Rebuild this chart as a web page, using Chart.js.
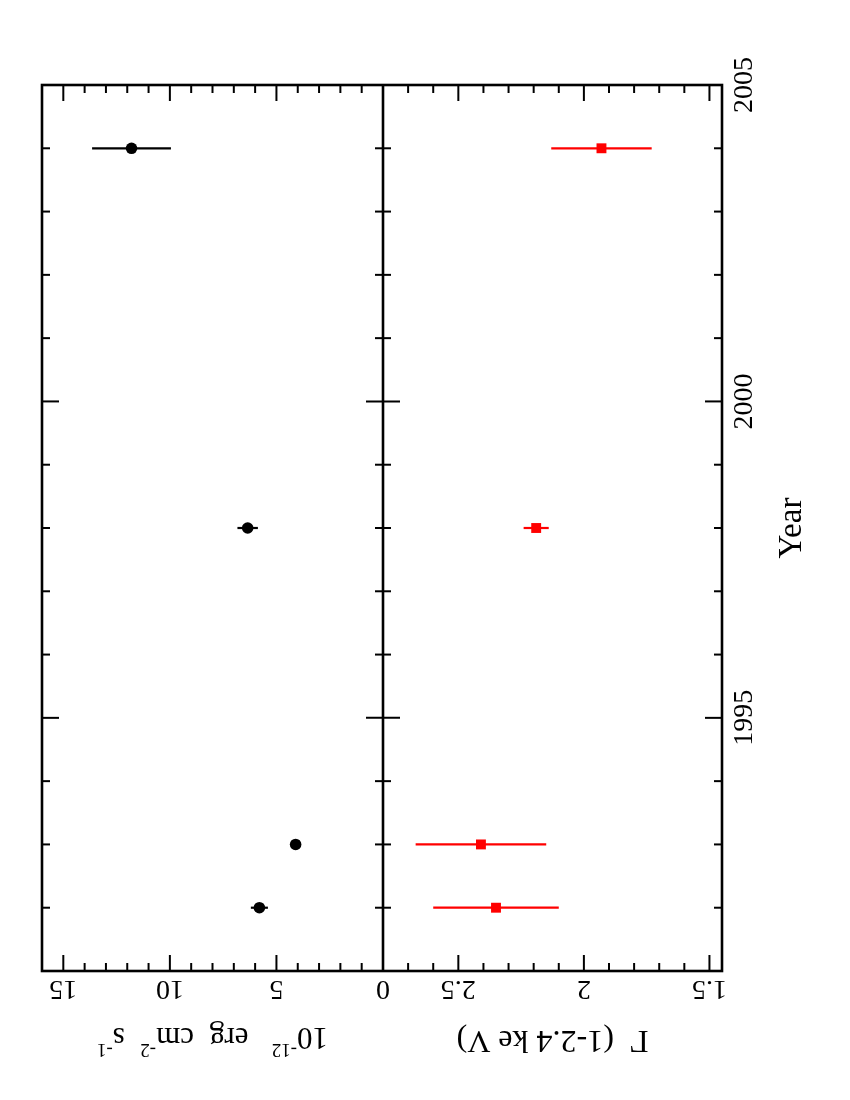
<!DOCTYPE html>
<html lang="en">
  <head>
    <meta charset="UTF-8" />
    <title>Flux and photon index by year</title>
    <script src="https://cdn.jsdelivr.net/npm/chart.js"></script>
    <style>
      html,
      body {
        margin: 0;
        padding: 0;
        background: #fff;
        font-family: 'Liberation Serif', serif;
      }
      canvas {
        display: block;
      }
    </style>
  </head>
  <body>
    <canvas id="yearChart" width="850" height="1100"></canvas>

    <script>
      // Observation epochs
      const years = [1992, 1993, 1998, 2004];
      // Flux, 10^-12 erg cm^-2 s^-1
      const flux = [5.8, 4.1, 6.35, 11.8];
      const fluxErr = [0.4, 0.12, 0.48, 1.85];
      // Photon index, 1-2.4 keV
      const gamma = [2.35, 2.41, 2.19, 1.93];
      const gammaErr = [0.25, 0.26, 0.05, 0.2];

      // Labelled ticks
      const yearTicks = [1995, 2000, 2005];
      const fluxTicks = [0, 5, 10, 15];
      const gammaTicks = [1.5, 2, 2.5];

      const serif = "'Liberation Serif', 'Times New Roman', Times, serif";

      // horizontal error bar on one of the value scales
      function errBar(ctx, scale, v, e, y, color) {
        ctx.strokeStyle = color;
        ctx.beginPath();
        ctx.moveTo(scale.getPixelForValue(v - e), y);
        ctx.lineTo(scale.getPixelForValue(v + e), y);
        ctx.stroke();
      }

      function seg(ctx, x1, y1, x2, y2) {
        ctx.beginPath();
        ctx.moveTo(x1, y1);
        ctx.lineTo(x2, y2);
        ctx.stroke();
      }

      // text made of pieces (for superscripts), centred on (x, y), turned by angle
      function richText(ctx, x, y, angle, parts) {
        ctx.save();
        ctx.translate(x, y);
        ctx.rotate(angle);
        ctx.textAlign = 'left';
        ctx.textBaseline = 'alphabetic';
        let w = 0;
        parts.forEach((p) => {
          ctx.font = p.size + 'px ' + serif;
          w += ctx.measureText(p.t).width;
        });
        let cx = -w / 2;
        parts.forEach((p) => {
          ctx.font = p.size + 'px ' + serif;
          ctx.fillText(p.t, cx, -(p.rise || 0));
          cx += ctx.measureText(p.t).width;
        });
        ctx.restore();
      }

      const errorBars = {
        id: 'errorBars',
        beforeDatasetsDraw(chart) {
          const { ctx, scales } = chart;
          ctx.save();
          ctx.lineWidth = 2.2;
          years.forEach((yr, i) => {
            const y = scales.y.getPixelForValue(yr);
            errBar(ctx, scales.xf, flux[i], fluxErr[i], y, '#000');
            errBar(ctx, scales.xg, gamma[i], gammaErr[i], y, '#ff0000');
          });
          ctx.restore();
        },
      };

      const frame = {
        id: 'frame',
        afterDraw(chart) {
          const { ctx, chartArea: a, scales } = chart;
          const mid = scales.xf.getPixelForValue(0);
          ctx.save();
          ctx.strokeStyle = '#000';
          ctx.fillStyle = '#000';

          // year ticks on both outer borders and across the divider
          ctx.lineWidth = 2;
          for (let yr = 1991; yr <= 2005; yr++) {
            const y = scales.y.getPixelForValue(yr);
            const len = yr % 5 === 0 ? 17 : 8;
            seg(ctx, a.left, y, a.left + len, y);
            seg(ctx, mid - len, y, mid + len, y);
            seg(ctx, a.right - len, y, a.right, y);
          }

          // value ticks on top and bottom
          for (let v = 1; v <= 15; v++) {
            const x = scales.xf.getPixelForValue(v);
            const len = v % 5 === 0 ? 16 : 8;
            seg(ctx, x, a.top, x, a.top + len);
            seg(ctx, x, a.bottom, x, a.bottom - len);
          }
          for (let k = 15; k <= 27; k++) {
            const x = scales.xg.getPixelForValue(k / 10);
            const len = k % 5 === 0 ? 16 : 8;
            seg(ctx, x, a.top, x, a.top + len);
            seg(ctx, x, a.bottom, x, a.bottom - len);
          }

          ctx.lineWidth = 2.6;
          ctx.strokeRect(a.left, a.top, a.right - a.left, a.bottom - a.top);
          seg(ctx, mid, a.top, mid, a.bottom);

          // tick labels
          ctx.font = '28px ' + serif;
          ctx.textAlign = 'center';
          ctx.textBaseline = 'alphabetic';
          yearTicks.forEach((yr) => {
            ctx.save();
            ctx.translate(a.right + 30, scales.y.getPixelForValue(yr));
            ctx.rotate(-Math.PI / 2);
            ctx.fillText(String(yr), 0, 0);
            ctx.restore();
          });
          const under = (x, t) => {
            ctx.save();
            ctx.translate(x, a.bottom + 10);
            ctx.rotate(Math.PI);
            ctx.fillText(t, 0, 0);
            ctx.restore();
          };
          fluxTicks.forEach((v) => under(scales.xf.getPixelForValue(v), String(v)));
          gammaTicks.forEach((v) => under(scales.xg.getPixelForValue(v), String(v)));

          // axis titles
          richText(ctx, a.right + 79, (a.top + a.bottom) / 2, -Math.PI / 2, [
            { t: 'Year', size: 33 },
          ]);
          richText(ctx, (a.left + mid) / 2, a.bottom + 57, Math.PI, [
            { t: '10', size: 31 },
            { t: '-12', size: 19, rise: 16 },
            { t: '   erg  cm', size: 31 },
            { t: '-2', size: 19, rise: 16 },
            { t: '  s', size: 31 },
            { t: '-1', size: 19, rise: 16 },
          ]);
          richText(ctx, (mid + a.right) / 2, a.bottom + 60, Math.PI, [
            { t: 'Γ', size: 32 },
            { t: '  (1-2.4 ke V)', size: 32 },
          ]);
          ctx.restore();
        },
      };

      const hidden = {
        display: true,
        ticks: { display: false },
        grid: { display: false, drawTicks: false },
        border: { display: false },
        title: { display: false },
      };

      function drawChart() {
        new Chart(document.getElementById('yearChart'), {
          type: 'scatter',
          data: {
            datasets: [
              {
                label: 'Flux',
                data: years.map((yr, i) => ({ x: flux[i], y: yr })),
                xAxisID: 'xf',
                yAxisID: 'y',
                pointStyle: 'circle',
                pointRadius: 5.8,
                pointBackgroundColor: '#000',
                pointBorderWidth: 0,
              },
              {
                label: 'Gamma',
                data: years.map((yr, i) => ({ x: gamma[i], y: yr })),
                xAxisID: 'xg',
                yAxisID: 'y',
                pointStyle: 'rect',
                pointRadius: 7,
                pointBackgroundColor: '#ff0000',
                pointBorderWidth: 0,
              },
            ],
          },
          options: {
            responsive: false,
            animation: false,
            events: [],
            layout: { padding: { left: 42, top: 85, right: 128, bottom: 129 } },
            plugins: { legend: { display: false }, tooltip: { enabled: false } },
            scales: {
              y: { ...hidden, type: 'linear', position: 'right', min: 1991, max: 2005 },
              xf: {
                ...hidden,
                type: 'linear',
                position: 'bottom',
                min: 0,
                max: 16,
                reverse: true,
                stack: 'panels',
                stackWeight: 341,
              },
              xg: {
                ...hidden,
                type: 'linear',
                position: 'bottom',
                min: 1.45,
                max: 2.8,
                reverse: true,
                stack: 'panels',
                stackWeight: 339,
              },
            },
          },
          plugins: [errorBars, frame],
        });
      }

      // make sure the serif face is ready before the canvas text is drawn
      Promise.all([
        document.fonts.load("28px 'Liberation Serif'"),
        document.fonts.load("28px 'Liberation Serif'", 'Γ'),
      ])
        .catch(() => {})
        .then(drawChart);
    </script>
  </body>
</html>
